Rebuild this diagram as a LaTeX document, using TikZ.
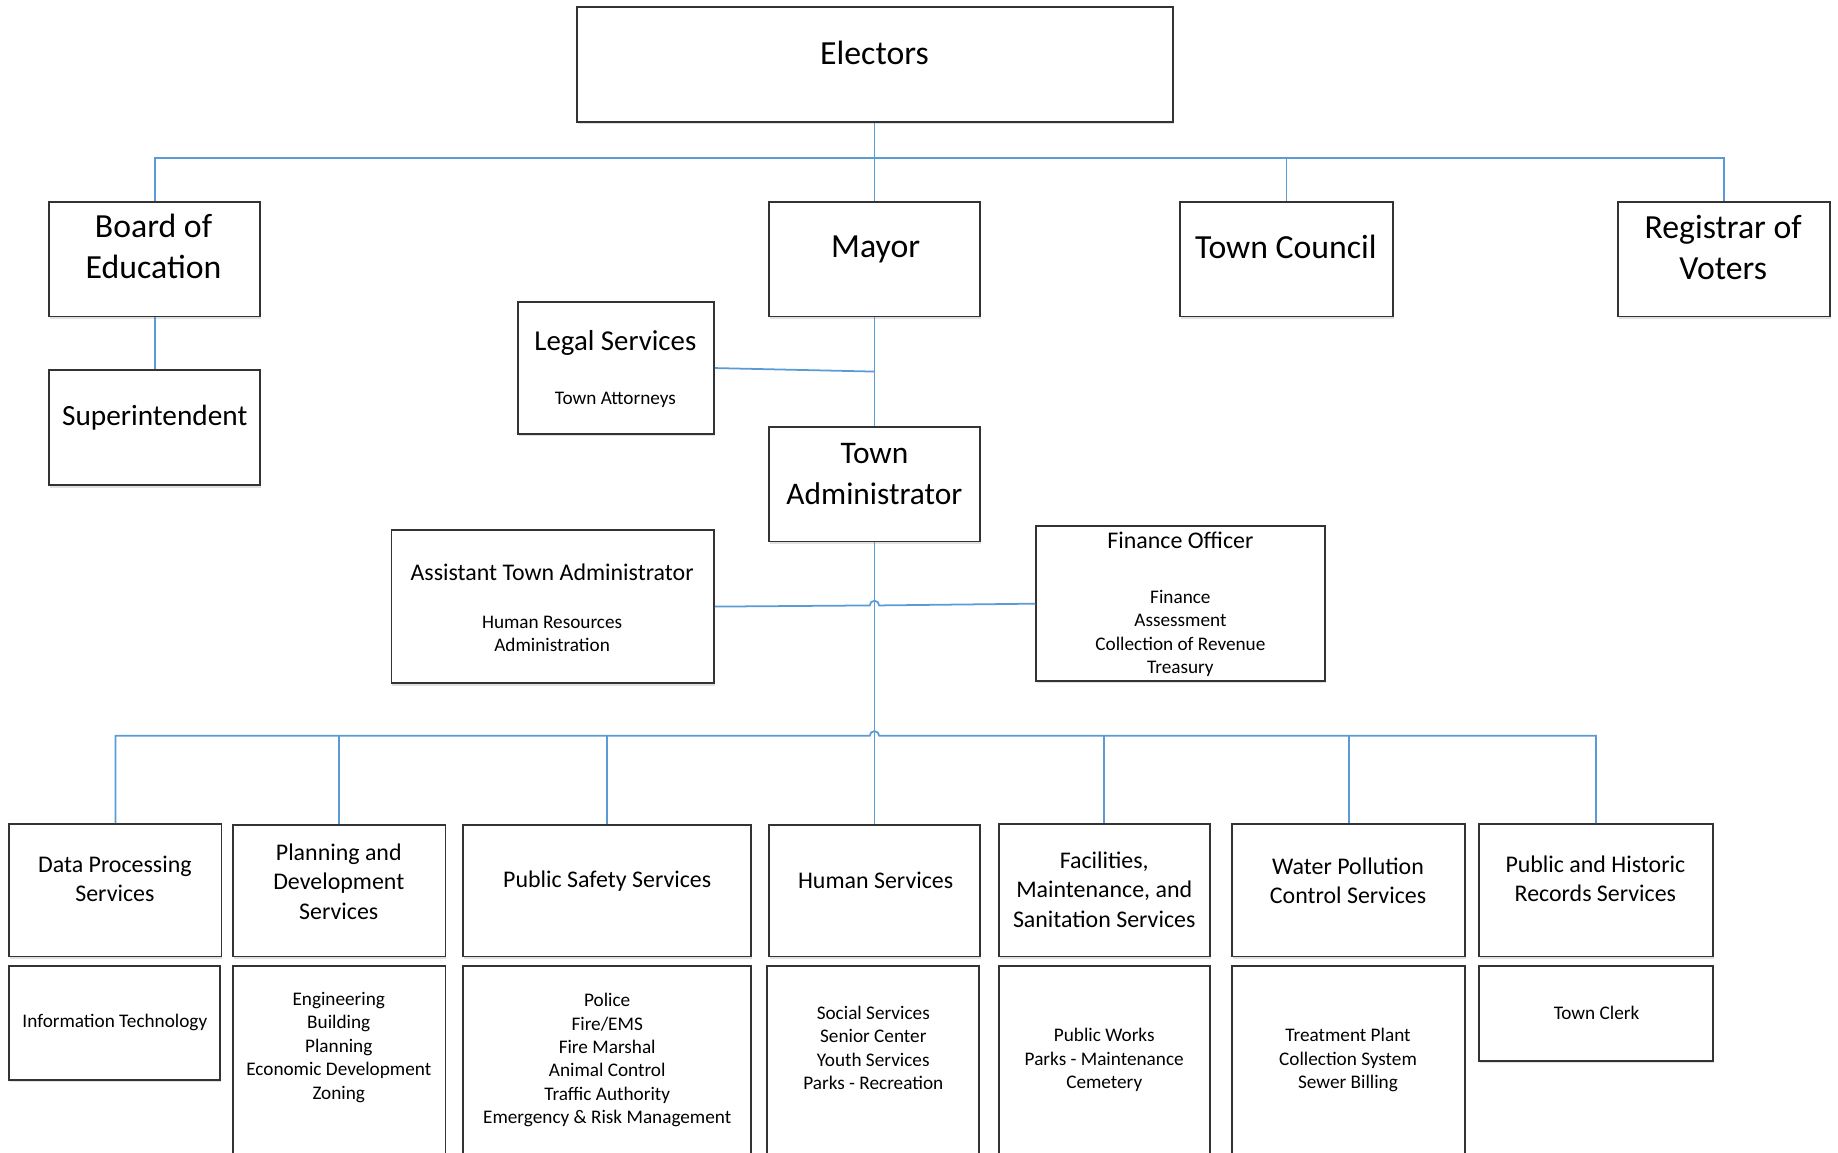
\documentclass[tikz,border=0pt]{standalone}
\usepackage{fontspec}
\setmainfont{Carlito}
\usetikzlibrary{fit,shadows}
\definecolor{conn}{RGB}{91,155,213}
\newcommand\fBig{\fontsize{14.4}{17.5}\selectfont}
\newcommand\fTA{\fontsize{13.4}{17.5}\selectfont}
\newcommand\fSup{\fontsize{12.5}{15}\selectfont}
\newcommand\fLeg{\fontsize{12.3}{15}\selectfont}
\newcommand\fMed{\fontsize{10.2}{12.5}\selectfont}
\newcommand\fSm{\fontsize{8.2}{10}\selectfont}
\begin{document}
\begin{tikzpicture}[x=0.5pt,y=-0.5pt,
  box/.style={draw=black!80, line width=0.8pt, fill=white, inner sep=0pt,
    general shadow={fill=black!12, shadow xshift=0.4pt, shadow yshift=-1pt}},
  link/.style={draw=conn, line width=0.75pt},
  tbig/.style={font=\fBig, align=center, inner sep=0pt},
  tta/.style={font=\fTA, align=center, inner sep=0pt},
  tsup/.style={font=\fSup, align=center, inner sep=0pt},
  tleg/.style={font=\fLeg, align=center, inner sep=0pt},
  tmed/.style={font=\fMed, align=center, inner sep=0pt},
  tsm/.style={font=\fSm, align=center, inner sep=0pt}]
\useasboundingbox (0,0) rectangle (1568,983);
\clip (0,0) rectangle (1568,983);
% boxes
\node[box, fit={(492,6) (1001,104)}] (electors) {};
\node[box, fit={(42,172) (222,270)}] (boe) {};
\node[box, fit={(656,172) (836,270)}] (mayor) {};
\node[box, fit={(1007,172) (1188,270)}] (council) {};
\node[box, fit={(1380,172) (1561,270)}] (registrar) {};
\node[box, fit={(42,316) (222,414)}] (supt) {};
\node[box, fit={(442,258) (609,370)}] (legal) {};
\node[box, fit={(656,364) (836,462)}] (townadmin) {};
\node[box, fit={(334,452) (609,583)}] (asst) {};
\node[box, fit={(884,449) (1130,581)}] (finance) {};
\node[box, fit={(8,703) (189,816)}] (dps) {};
\node[box, fit={(199,704) (380,816)}] (pds) {};
\node[box, fit={(395,704) (641,816)}] (pss) {};
\node[box, fit={(656,704) (836,816)}] (hs) {};
\node[box, fit={(852,703) (1032,816)}] (fms) {};
\node[box, fit={(1051,703) (1250,816)}] (wpc) {};
\node[box, fit={(1262,703) (1461,816)}] (phr) {};
\node[box, fit={(8,824) (188,921)}] (itsub) {};
\node[box, fit={(199,824) (380,1010)}] (pdssub) {};
\node[box, fit={(395,824) (641,1010)}] (psssub) {};
\node[box, fit={(654,824) (835,1010)}] (hssub) {};
\node[box, fit={(852,824) (1032,1010)}] (fmssub) {};
\node[box, fit={(1051,824) (1250,1010)}] (wpcsub) {};
\node[box, fit={(1262,824) (1461,905)}] (clerk) {};
% connectors
\coordinate (tb) at (746,135);
\coordinate (lj) at (746,317);
\coordinate (hopA) at (746,516.5);
\coordinate (bb) at (746,627.7);
\draw[link] (mayor.north |- electors.south) -- (mayor.north);
\draw[link] (boe.north) |- (tb) -| (registrar.north);
\draw[link] (tb) -| (council.north);
\draw[link] (boe.south) -- (supt.north);
\draw[link] (mayor.south) -- (townadmin.north);
\draw[link] (legal.east) -- (lj);
\draw[link] (townadmin.south) -- (hs.north);
\draw[link] (asst.east) -- ([xshift=-2pt]hopA) arc[start angle=180,end angle=0,radius=2pt] -- (finance.west);
\draw[link] (dps.north) |- ([xshift=-2pt]bb) arc[start angle=180,end angle=0,radius=2pt] -| (phr.north);
\draw[link] (pds.north) -- (pds.north |- bb);
\draw[link] (pss.north) -- (pss.north |- bb);
\draw[link] (fms.north) -- (fms.north |- bb);
\draw[link] (wpc.north) -- (wpc.north |- bb);
% texts
\node[tbig] (t-electors) at (746,45) {Electors};
\node[tbig] (t-boe) at (131,210.5) {Board of\\Education};
\node[tbig] (t-mayor) at (747,213) {Mayor};
\node[tbig] (t-council) at (1097,211) {Town Council};
\node[tbig] (t-registrar) at (1470,211) {Registrar of\\Voters};
\node[tsup] (t-supt) at (132,356) {Superintendent};
\node[tleg] (t-legal) at (525,293) {Legal Services};
\node[tsm] (t-legal2) at (525,341) {Town Attorneys};
\node[tta] (t-ta) at (746,404) {Town\\Administrator};
\node[tmed] (t-asst) at (471,488) {Assistant Town Administrator};
\node[tsm] (t-asst2) at (471,541) {Human Resources\\Administration};
\node[tmed] (t-fin) at (1007,461) {Finance Officer};
\node[tsm] (t-fin2) at (1007,540.5) {Finance\\Assessment\\Collection of Revenue\\Treasury};
\node[tmed] (t-dps) at (98,750) {Data Processing\\Services};
\node[tmed] (t-pds) at (289,752) {Planning and\\Development\\Services};
\node[tmed] (t-pss) at (518,751.5) {Public Safety Services};
\node[tmed] (t-hs) at (747,751) {Human Services};
\node[tmed] (t-fms) at (942,759) {Facilities,\\Maintenance, and\\Sanitation Services};
\node[tmed] (t-wpc) at (1150,751.5) {Water Pollution\\Control Services};
\node[tmed] (t-phr) at (1361,749.5) {Public and Historic\\Records Services};
\node[tsm] (t-it) at (98,872.5) {Information Technology};
\node[tsm] (t-pdssub) at (289,893.5) {Engineering\\Building\\Planning\\Economic Development\\Zoning};
\node[tsm] (t-psssub) at (518,904.5) {Police\\Fire/EMS\\Fire Marshal\\Animal Control\\Traffic Authority\\Emergency \& Risk Management};
\node[tsm] (t-hssub) at (745,894) {Social Services\\Senior Center\\Youth Services\\Parks - Recreation};
\node[tsm] (t-fmssub) at (942,904.5) {Public Works\\Parks - Maintenance\\Cemetery};
\node[tsm] (t-wpcsub) at (1150,904.5) {Treatment Plant\\Collection System\\Sewer Billing};
\node[tsm] (t-clerk) at (1362,864) {Town Clerk};
\end{tikzpicture}
\end{document}
